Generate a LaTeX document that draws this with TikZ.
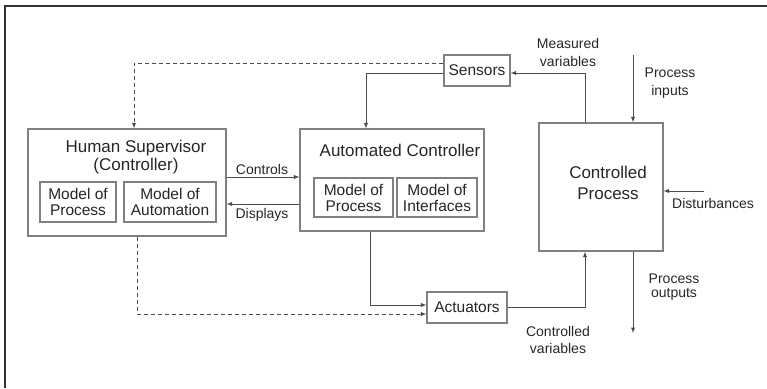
\documentclass[tikz,border=0pt]{standalone}
\usepackage{fontspec}
\setmainfont{Liberation Sans}
\usetikzlibrary{arrows}
\tikzstyle{box} = [rectangle, draw=black!50, line width=1.2pt, inner sep=0pt]
\tikzstyle{boxtitle} = [inner sep=0pt, font=\fontsize{17}{18}\selectfont, align=center, text=black!85]
\tikzstyle{modelbox} = [box, font=\fontsize{15.5}{16}\selectfont, align=center, text=black!85]
\tikzstyle{lbl} = [inner sep=0pt, font=\fontsize{14}{17}\selectfont, align=center, text=black!85]
\tikzstyle{arrow} = [->, >=latex, draw=black!70, line width=0.9pt]
\tikzstyle{dasharrow} = [arrow, dash pattern=on 4pt off 3pt]

\begin{document}
\begin{tikzpicture}[x=1pt, y=-1pt]
	\useasboundingbox (0,0) rectangle (767,388);
	\draw[line width=1.8pt, black!80] (767,6) -- (5,6) -- (5,388);
	%----------------------------------------------------%
	\node(hs) [box, minimum width=198pt, minimum height=107pt] at (127,182.5) {};
	\node(hstitle) [boxtitle, anchor=north] at (136,140) {Human Supervisor\\(Controller)};
	\node(hsproc) [modelbox, minimum width=76pt, minimum height=40pt] at (78,202) {Model of\\Process};
	\node(hsauto) [modelbox, minimum width=92pt, minimum height=40pt] at (170,202) {Model of\\Automation};
	%----------------------------------------------------%
	\node(ac) [box, minimum width=184pt, minimum height=102pt] at (392,180) {};
	\node(actitle) [boxtitle, anchor=base] at (400,156) {Automated Controller};
	\node(acproc) [modelbox, minimum width=79pt, minimum height=39pt] at (353.5,197.5) {Model of\\Process};
	\node(acintf) [modelbox, minimum width=80pt, minimum height=39pt] at (437,197.5) {Model of\\Interfaces};
	%----------------------------------------------------%
	\node(cp) [box, minimum width=124pt, minimum height=128pt] at (601,187) {};
	\node(cptext) [boxtitle, anchor=north, font=\fontsize{17}{21}\selectfont] at (608,165.5) {Controlled\\Process};
	\node(sensors) [modelbox, minimum width=66pt, minimum height=31pt] at (477,70.5) {Sensors};
	\node(act) [modelbox, minimum width=80pt, minimum height=31pt] at (467,307.5) {Actuators};
	%----------------------------------------------------%
	\node(meas) [lbl, anchor=north, font=\fontsize{14}{18}\selectfont] at (568,38) {Measured\\variables};
	\node(pinlbl) [lbl, anchor=north, font=\fontsize{14}{18}\selectfont] at (670,68) {Process\\inputs};
	\node(distlbl) [lbl, anchor=base] at (713,208) {Disturbances};
	\node(poutlbl) [lbl, anchor=north, font=\fontsize{14}{14}\selectfont] at (674,274) {Process\\outputs};
	\node(cvlbl) [lbl, anchor=north] at (558,326) {Controlled\\variables};
	\node(ctrllbl) [lbl, anchor=base] at (262,174) {Controls};
	\node(displbl) [lbl, anchor=base] at (262,218) {Displays};
	\coordinate(pin) at (633,55);
	\coordinate(dist) at (704,191);
	\coordinate(pout) at (633,333);
	%----------------------------------------------------%
	\draw[dasharrow] ([yshift=7.5pt]sensors.west) -| ([xshift=7pt]hs.north);
	\draw[arrow] ([yshift=-2.5pt]sensors.west) -| ([xshift=-26pt]ac.north);
	\draw[arrow] ([xshift=-16pt]cp.north) |- ([yshift=-2.5pt]sensors.east);
	\draw[arrow] (pin) -- ([xshift=32pt]cp.north);
	\draw[arrow] (dist) -- (dist -| cp.east);
	\draw[arrow] ([xshift=32pt]cp.south) -- (pout);
	\draw[arrow] (act.east) -| ([xshift=-16pt]cp.south);
	\draw[arrow] ([xshift=-22pt]ac.south) |- ([yshift=2.5pt]act.west);
	\draw[dasharrow] ([xshift=10pt]hs.south) |- ([yshift=-6.5pt]act.west);
	\draw[arrow] ([yshift=5.5pt]hs.east) -- ([yshift=3pt]ac.west);
	\draw[arrow] ([yshift=-24pt]ac.west) -- ([yshift=-21.5pt]hs.east);
\end{tikzpicture}
\end{document}
